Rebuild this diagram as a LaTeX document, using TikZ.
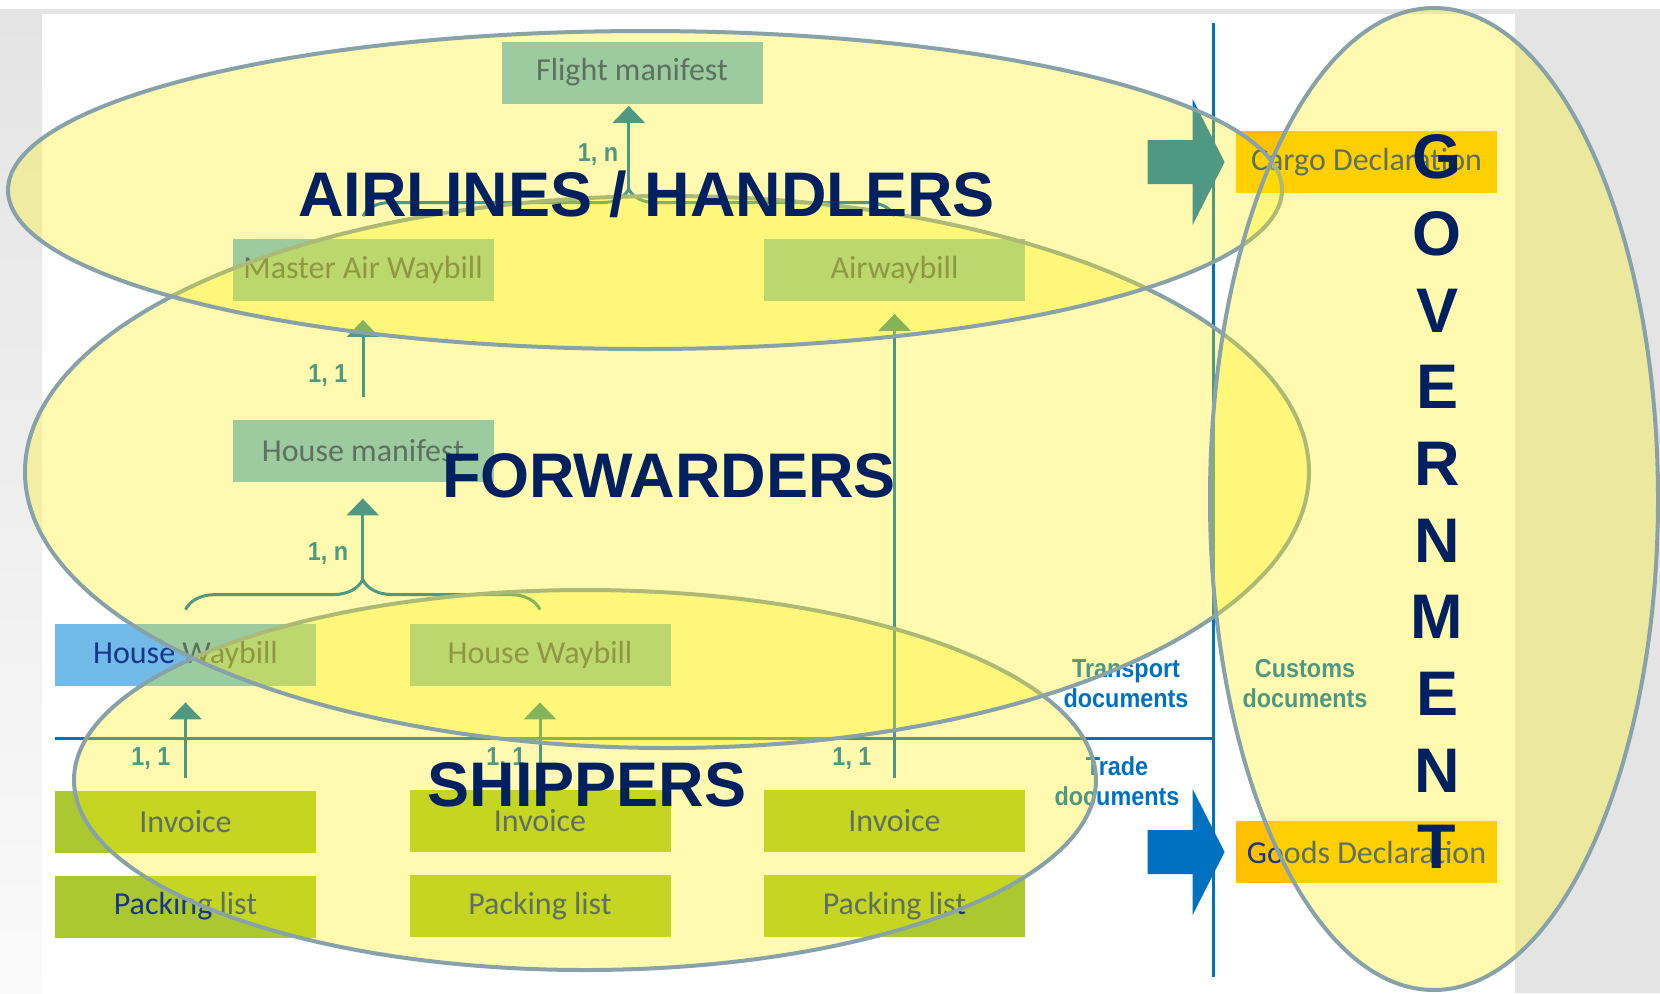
\documentclass[tikz,border=0pt]{standalone}
\usepackage{fontspec}
\setmainfont{Carlito}
\newfontfamily\titlefont{Liberation Sans}
\newfontfamily\notefont[FakeStretch=0.9]{Liberation Sans}
\usepackage{xcolor}
\usetikzlibrary{
    arrows.meta,
    decorations.pathreplacing,
    calc,
    positioning
}

\definecolor{docblue}{RGB}{114,186,232}
\definecolor{docgreen}{RGB}{172,200,48}
\definecolor{docorange}{RGB}{255,192,0}
\definecolor{doctext}{RGB}{22,54,138}
\definecolor{linkblue}{RGB}{0,112,192}
\definecolor{titlenavy}{RGB}{0,32,96}
\definecolor{ringgray}{RGB}{136,162,170}
\definecolor{slidegray}{RGB}{228,228,228}

\begin{document}
\begin{tikzpicture}[x=0.5pt, y=-0.5pt,
    doc/.style={rectangle, inner sep=0pt, minimum width=130.5pt, minimum height=31pt,
        text=doctext, font=\fontsize{16}{19}\selectfont},
    link/.style={draw=linkblue, line width=1.5pt, -{Triangle[length=8.5pt, width=16pt]}},
    bundle/.style={draw=linkblue, line width=1.5pt, decorate, decoration={brace, amplitude=#1}},
    sepline/.style={draw=linkblue, line width=1.5pt},
    note/.style={text=linkblue, font=\notefont\bfseries\fontsize{13}{15}\selectfont,
        align=center, inner sep=0pt},
    party/.style={text=titlenavy, font=\titlefont\bfseries\fontsize{31.5}{36}\selectfont,
        inner sep=0pt},
    ring/.style={draw=ringgray, line width=2pt, fill=yellow, fill opacity=0.31}
]
    % slide background
    \useasboundingbox (0,0) rectangle (1660,993);
    \fill[white] (0,0) rectangle (1660,993);
    \fill[slidegray] (0,9) rectangle (1660,14);
    \shade[top color=slidegray, bottom color=gray!4] (0,14) rectangle (42,993);
    \fill[slidegray] (1515,14) rectangle (1660,993);

    % documents
    \node[doc, fill=docblue] (fman) at (632,72.5) {Flight manifest};
    \node[doc, fill=docblue] (mawb) at (363,269.5) {Master Air Waybill};
    \node[doc, fill=docblue] (awb) at (894.5,269.5) {Airwaybill};
    \node[doc, fill=docblue] (hman) at (363,451) {House manifest};
    \node[doc, fill=docblue] (hwbl) at (185.5,655) {House Waybill};
    \node[doc, fill=docblue] (hwbr) at (540,655) {House Waybill};
    \node[doc, fill=docgreen] (invl) at (185.5,821.5) {Invoice};
    \node[doc, fill=docgreen] (packl) at (185.5,906.5) {Packing list};
    \node[doc, fill=docgreen] (invm) at (540,821) {Invoice};
    \node[doc, fill=docgreen] (packm) at (540,906) {Packing list};
    \node[doc, fill=docgreen] (invr) at (894.5,821) {Invoice};
    \node[doc, fill=docgreen] (packr) at (894.5,906) {Packing list};
    \node[doc, fill=docorange] (cargo) at (1366.5,162) {Cargo Declaration};
    \node[doc, fill=docorange] (goods) at (1366.5,852) {Goods Declaration};

    % separators
    \coordinate (septop) at (1213,23);
    \coordinate (sepbot) at (1213,977);
    \coordinate (sepleft) at (55,738);
    \draw[sepline] (septop) -- (sepbot);
    \draw[sepline] (sepleft) -- (septop |- sepleft);

    % links
    \draw[bundle=13.5pt] ([yshift=11pt]mawb.north) -- ([yshift=11pt]awb.north);
    \coordinate (awbjoin) at ($(mawb.north)!0.5!(awb.north)+(0,-49)$);
    \draw[link, shorten >=1pt] (awbjoin) -- (awbjoin |- fman.south);
    \draw[link, shorten >=9.5pt] ([yshift=11.5pt]hman.north) -- (mawb.south);
    \draw[bundle=15pt] ([yshift=7pt]hwbl.north) -- ([yshift=7pt]hwbr.north);
    \coordinate (hwbjoin) at ($(hwbl.north)!0.5!(hwbr.north)+(0,-44)$);
    \draw[link, shorten >=8pt] (hwbjoin) -- (hwbjoin |- hman.south);
    \draw[link, shorten >=8pt] ([yshift=6pt]invl.north) -- (hwbl.south);
    \draw[link, shorten >=8pt] ([yshift=6pt]invm.north) -- (hwbr.south);
    \draw[link, shorten >=6.5pt] ([yshift=6pt]invr.north) -- (awb.south);

    \node[note] (awbcard) at (598,155) {1, n};
    \node[note] (mhcard) at (328,376) {1, 1};
    \node[note] (hwbcard) at (328,554) {1, n};
    \node[note] (invlcard) at (151,759) {1, 1};
    \node[note] (invmcard) at (506,759) {1, 1};
    \node[note] (invrcard) at (852,759) {1, 1};

    \node[note] (transport) at (1126,684) {Transport\\documents};
    \node[note] (trade) at (1117,781) {Trade\\documents};
    \node[note] (customs) at (1305,684) {Customs\\documents};

    % block arrows into the declarations
    \foreach \decl in {cargo, goods}
        \fill[linkblue] ([xshift=-5.5pt]\decl.west) -- ++(-16pt,31.5pt) -- ++(0,-20.5pt)
            -- ++(-22.5pt,0) -- ++(0,-22pt) -- ++(22.5pt,0) -- ++(0,-20.5pt) -- cycle;

    % parties
    \draw[ring] (585,780) ellipse [x radius=255.5pt, y radius=95pt];
    \draw[ring] (667,472) ellipse [x radius=321pt, y radius=138pt];
    \draw[ring] (645,190) ellipse [x radius=318.5pt, y radius=79.5pt];
    \draw[ring] (1434,499) ellipse [x radius=112pt, y radius=245.5pt];

    \node[party, anchor=base] (airlines) at (646.5,216) {AIRLINES / HANDLERS};
    \node[party, anchor=base] (forwarders) at (669,497) {FORWARDERS};
    \node[party, anchor=base] (shippers) at (587,806) {SHIPPERS};
    \foreach \ch [count=\i from 0] in {G,O,V,E,R,N,M,E,N,T}
        \node[party] (gov\i) at (1437,{157+76.67*\i}) {\ch};
\end{tikzpicture}
\end{document}
